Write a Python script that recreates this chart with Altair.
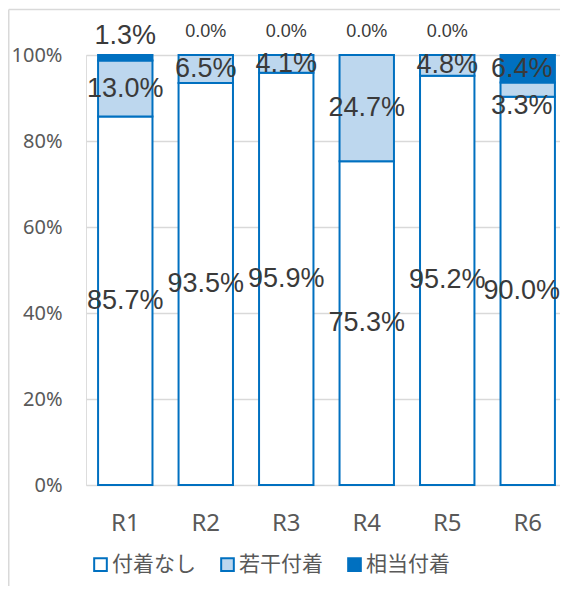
import altair as alt
import pandas as pd

categories = ["R1", "R2", "R3", "R4", "R5", "R6"]
series = ["付着なし", "若干付着", "相当付着"]
none_vals = [85.7, 93.5, 95.9, 75.3, 95.2, 90.0]
slight_vals = [13.0, 6.5, 4.1, 24.7, 4.8, 3.3]
heavy_vals = [1.3, 0.0, 0.0, 0.0, 0.0, 6.4]

colors = ["#FFFFFF", "#BDD7EE", "#0070C0"]
BLUE = "#0070C0"

rows = []
for i, c in enumerate(categories):
    vals = [none_vals[i], slight_vals[i], heavy_vals[i]]
    tot = sum(vals)
    cum = 0.0
    for j, s in enumerate(series):
        v = vals[j]
        start = cum / tot
        cum += v
        end = cum / tot
        if v == 0:
            kind, ypos = "zero", 1.0
        elif j == 2 and v < 2:
            kind, ypos = "above", 1.0
        elif j == 1 and v < 4 and vals[2] >= 2:
            kind, ypos = "below", start
        else:
            kind, ypos = "mid", (start + end) / 2
        # keep labels of the last column inside the chart area
        edge = "last" if i == len(categories) - 1 else "in"
        rows.append({"cat": c, "series": s, "order": j, "value": v,
                     "label": f"{v:.1f}%", "kind": kind, "edge": edge, "ypos": ypos})
df = pd.DataFrame(rows)

W, H = 474, 430
PL, PT, PR, PB = 78, 47, 0, 101
xscale = alt.Scale(domain=categories, range=[0, 481], paddingInner=0.324, paddingOuter=0.15)
yscale = alt.Scale(domain=[0, 1])

base = alt.Chart(df)

bars = base.mark_bar(stroke=BLUE, strokeWidth=2).encode(
    x=alt.X("cat:N", scale=xscale, sort=categories,
            axis=alt.Axis(title=None, labelAngle=0, ticks=False, domain=False,
                          labelFont="Noto Sans", labelFontSize=24, labelColor="#595959",
                          labelPadding=26)),
    y=alt.Y("value:Q", stack="normalize", scale=yscale,
            axis=alt.Axis(title=None, format=".0%", values=[0, 0.2, 0.4, 0.6, 0.8, 1.0],
                          ticks=False, domain=False, labelFont="Noto Sans",
                          labelFontSize=20, labelColor="#595959", labelPadding=24,
                          gridColor="#D9D9D9", gridWidth=1.5)),
    color=alt.Color("series:N", scale=alt.Scale(domain=series, range=colors),
                    legend=alt.Legend(title=None, orient="none", direction="horizontal",
                                      legendX=4, legendY=499, symbolType="square",
                                      symbolSize=160, symbolStrokeColor=BLUE,
                                      symbolStrokeWidth=2, labelFont="Noto Sans CJK JP",
                                      labelFontSize=21, labelColor="#595959",
                                      labelOffset=1, columnPadding=21, padding=0)),
    order=alt.Order("order:Q"),
)

LABEL_FONT = "Liberation Sans, Arial, sans-serif"

def text_layer(kind, edge, dy, size):
    dx = -6 if edge == "last" else 0
    return base.transform_filter(
        (alt.datum.kind == kind) & (alt.datum.edge == edge)
    ).mark_text(
        font=LABEL_FONT, fontSize=size, color="#3A3A3A", dy=dy, dx=dx, baseline="middle"
    ).encode(
        x=alt.X("cat:N", scale=xscale, sort=categories),
        y=alt.Y("ypos:Q", scale=yscale),
        text="label:N",
    )

layers = []
for edge in ["in", "last"]:
    layers += [
        text_layer("mid", edge, 0, 27),
        text_layer("above", edge, -19, 27),
        text_layer("below", edge, 9, 27),
        text_layer("zero", edge, -23, 18),
    ]

frame_data = alt.Chart(pd.DataFrame({"a": [0]}))
frame_top = frame_data.mark_rule(color="#D9D9D9", strokeWidth=1.5).encode(
    x=alt.value(-PL + 0.75), x2=alt.value(W + PR), y=alt.value(-PT + 1.5))
frame_left = frame_data.mark_rule(color="#D9D9D9", strokeWidth=1.5).encode(
    x=alt.value(-PL + 0.75), y=alt.value(-PT + 1.5), y2=alt.value(H + PB))

chart = alt.layer(frame_top, frame_left, bars, *layers).properties(
    width=W, height=H,
    autosize=alt.AutoSizeParams(type="none"),
    padding={"left": PL, "top": PT, "right": PR, "bottom": PB},
).configure_view(stroke=None).configure(background="white")

chart.save("out.html", embed_options={"renderer": "svg", "actions": False})
